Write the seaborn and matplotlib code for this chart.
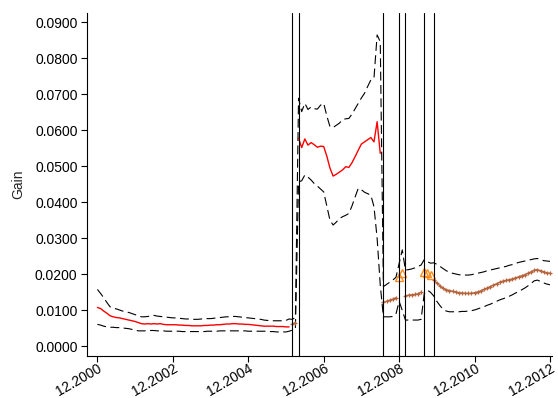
import numpy as np
import pandas as pd
import matplotlib
matplotlib.use("Agg")
import matplotlib.pyplot as plt
import seaborn as sns

# Regime of each monthly estimate, as (regime, number of months) runs from 12.2000
regime_runs = [("normal", 62), ("transition", 2), ("normal", 27), ("transition", 5),
               ("break", 2), ("transition", 6), ("break", 3), ("transition", 38)]

# Monthly gain estimate
gain = [
    0.0108, 0.0105, 0.0098, 0.0092, 0.0085, 0.0082, 0.0080, 0.0079, 0.0077, 0.0075,
    0.0073, 0.0071, 0.0069, 0.0066, 0.0063, 0.0062, 0.0063, 0.0062, 0.0063, 0.0062,
    0.0063, 0.0061, 0.0060, 0.0060, 0.0060, 0.0060, 0.0059, 0.0059, 0.0058, 0.0058,
    0.0057, 0.0057, 0.0057, 0.0057, 0.0058, 0.0058, 0.0059, 0.0059, 0.0060, 0.0060,
    0.0061, 0.0062, 0.0062, 0.0063, 0.0063, 0.0062, 0.0062, 0.0061, 0.0061, 0.0060,
    0.0059, 0.0058, 0.0057, 0.0056, 0.0056, 0.0056, 0.0056, 0.0055, 0.0055, 0.0055,
    0.0054, 0.0054,
    0.0062, 0.0066,
    0.0578, 0.0552, 0.0576, 0.0559, 0.0566, 0.0560, 0.0553, 0.0556, 0.0555, 0.0528,
    0.0495, 0.0473, 0.0478, 0.0484, 0.0490, 0.0499, 0.0497, 0.0510, 0.0527, 0.0545,
    0.0562, 0.0568, 0.0574, 0.0580, 0.0568, 0.0624, 0.0536,
    0.0122, 0.0125, 0.0128, 0.0131, 0.0135,
    0.0192, 0.0204,
    0.0140, 0.0142, 0.0143, 0.0144, 0.0146, 0.0150,
    0.0207, 0.0204, 0.0198,
    0.0184, 0.0176, 0.0168, 0.0161, 0.0157, 0.0155, 0.0153, 0.0151, 0.0149, 0.0148,
    0.0147, 0.0147, 0.0147, 0.0149, 0.0151, 0.0154, 0.0158, 0.0162, 0.0166, 0.0170,
    0.0174, 0.0178, 0.0181, 0.0183, 0.0185, 0.0187, 0.0190, 0.0193, 0.0196, 0.0199,
    0.0203, 0.0207, 0.0211, 0.0213, 0.0210, 0.0207, 0.0204, 0.0203,
]

# Upper confidence bound
upper = [
    0.0158, 0.0147, 0.0135, 0.0122, 0.0110, 0.0106, 0.0104, 0.0101, 0.0098, 0.0096,
    0.0094, 0.0091, 0.0088, 0.0085, 0.0082, 0.0082, 0.0083, 0.0084, 0.0086, 0.0084,
    0.0083, 0.0082, 0.0081, 0.0080, 0.0079, 0.0079, 0.0078, 0.0077, 0.0076, 0.0076,
    0.0075, 0.0075, 0.0075, 0.0076, 0.0076, 0.0077, 0.0077, 0.0078, 0.0079, 0.0080,
    0.0081, 0.0082, 0.0082, 0.0083, 0.0083, 0.0082, 0.0081, 0.0080, 0.0079, 0.0078,
    0.0077, 0.0076, 0.0075, 0.0073, 0.0072, 0.0072, 0.0071, 0.0071, 0.0071, 0.0071,
    0.0072, 0.0076,
    0.0075, 0.0080,
    0.0689, 0.0652, 0.0675, 0.0658, 0.0665, 0.0660, 0.0659, 0.0670, 0.0675, 0.0640,
    0.0610, 0.0608, 0.0614, 0.0620, 0.0630, 0.0632, 0.0633, 0.0645, 0.0660, 0.0675,
    0.0690, 0.0703, 0.0722, 0.0740, 0.0745, 0.0865, 0.0846,
    0.0166, 0.0172, 0.0178, 0.0184, 0.0192,
    0.0230, 0.0268,
    0.0212, 0.0213, 0.0215, 0.0218, 0.0222, 0.0226,
    0.0241, 0.0235, 0.0231,
    0.0232, 0.0228, 0.0222, 0.0216, 0.0210, 0.0206, 0.0203, 0.0201, 0.0199, 0.0198,
    0.0198, 0.0198, 0.0199, 0.0201, 0.0203, 0.0205, 0.0207, 0.0210, 0.0212, 0.0214,
    0.0216, 0.0218, 0.0220, 0.0222, 0.0225, 0.0227, 0.0230, 0.0233, 0.0235, 0.0237,
    0.0239, 0.0241, 0.0243, 0.0244, 0.0241, 0.0238, 0.0237, 0.0236,
]

# Lower confidence bound
lower = [
    0.0061, 0.0059, 0.0056, 0.0054, 0.0053, 0.0053, 0.0052, 0.0052, 0.0051, 0.0050,
    0.0049, 0.0047, 0.0045, 0.0043, 0.0043, 0.0043, 0.0044, 0.0044, 0.0044, 0.0043,
    0.0043, 0.0043, 0.0042, 0.0042, 0.0042, 0.0042, 0.0042, 0.0041, 0.0041, 0.0041,
    0.0041, 0.0041, 0.0041, 0.0041, 0.0041, 0.0042, 0.0042, 0.0042, 0.0042, 0.0043,
    0.0043, 0.0043, 0.0043, 0.0043, 0.0043, 0.0043, 0.0043, 0.0043, 0.0042, 0.0042,
    0.0042, 0.0042, 0.0042, 0.0042, 0.0042, 0.0041, 0.0041, 0.0040, 0.0040, 0.0040,
    0.0040, 0.0042,
    0.0045, 0.0050,
    0.0457, 0.0460, 0.0476, 0.0470, 0.0462, 0.0452, 0.0445, 0.0437, 0.0429, 0.0390,
    0.0350, 0.0337, 0.0345, 0.0355, 0.0360, 0.0364, 0.0369, 0.0390, 0.0415, 0.0439,
    0.0435, 0.0428, 0.0424, 0.0420, 0.0388, 0.0300, 0.0170,
    0.0082, 0.0082, 0.0082, 0.0083, 0.0090,
    0.0125, 0.0100,
    0.0073, 0.0073, 0.0073, 0.0073, 0.0073, 0.0075,
    0.0147, 0.0156, 0.0150,
    0.0140, 0.0125, 0.0113, 0.0103, 0.0098, 0.0096, 0.0096, 0.0096, 0.0096, 0.0097,
    0.0097, 0.0098, 0.0099, 0.0101, 0.0104, 0.0107, 0.0110, 0.0114, 0.0117, 0.0121,
    0.0125, 0.0129, 0.0132, 0.0135, 0.0139, 0.0143, 0.0148, 0.0152, 0.0157, 0.0162,
    0.0168, 0.0175, 0.0182, 0.0184, 0.0180, 0.0176, 0.0173, 0.0171,
]

tick_months = [0, 24, 48, 72, 96, 120, 144]
tick_labels = ["12.2000", "12.2002", "12.2004", "12.2006", "12.2008", "12.2010", "12.2012"]
y_ticks = [0.00, 0.01, 0.02, 0.03, 0.04, 0.05, 0.06, 0.07, 0.08, 0.09]

regime = [code for code, n in regime_runs for _ in range(n)]
df = pd.DataFrame({
    "month": np.arange(len(gain)),
    "gain": gain,
    "upper": upper,
    "lower": lower,
    "regime": regime,
})
df["segment"] = (df["regime"] != df["regime"].shift()).cumsum()
switch_months = df.loc[df["segment"].diff() == 1, "month"].tolist()

sns.set_style("ticks")
plt.rcParams["font.family"] = ["Liberation Sans", "DejaVu Sans"]
plt.rcParams["axes.edgecolor"] = "black"

fig = plt.figure(figsize=(5.58, 3.98), dpi=100)
ax = fig.add_axes([0.156, 0.1063, 0.833, 0.862])

brown = "#b5643c"
orange = "#ff8c1a"

# Confidence bounds, drawn across all regimes
dash = (0, (8, 4))
for col in ["upper", "lower"]:
    sns.lineplot(data=df, x="month", y=col, color="black", lw=0.8,
                 linestyle=dash, ax=ax)

# Regime switch markers
for m in switch_months:
    ax.axvline(m, color="black", lw=0.8, zorder=3)

sns.lineplot(data=df[df["regime"] == "normal"], x="month", y="gain",
             units="segment", estimator=None, color="#ff0000", lw=1.0, ax=ax)
sns.lineplot(data=df[df["regime"] == "transition"], x="month", y="gain",
             units="segment", estimator=None, color=brown, lw=1.0,
             marker="+", markersize=3.5, markeredgewidth=0.9,
             markeredgecolor=brown, markerfacecolor=brown, ax=ax)
sns.lineplot(data=df[df["regime"] == "break"], x="month", y="gain",
             units="segment", estimator=None, color=orange,
             linestyle="none", marker="^", markersize=5.5,
             markerfacecolor="none", markeredgecolor=orange,
             markeredgewidth=1.0, ax=ax)

ax.set_xlim(-3.3, 144.6)
ax.set_ylim(-0.0026, 0.0927)
ax.set_xticks(tick_months)
ax.set_xticklabels(tick_labels, rotation=30, ha="right", va="top",
                   rotation_mode="anchor")
ax.set_yticks(y_ticks)
ax.set_yticklabels([f"{v:.4f}" for v in y_ticks])
ax.set_xlabel("")
ax.set_ylabel("Gain", fontsize=10, labelpad=7)
ax.tick_params(axis="both", length=4.3, width=0.8, color="black",
               labelsize=10, labelcolor="black")
ax.tick_params(axis="y", pad=2.5)
ax.tick_params(axis="x", pad=0)
for side in ["left", "bottom"]:
    ax.spines[side].set_linewidth(0.8)
sns.despine(ax=ax)

fig.savefig("out.png", dpi=100)
